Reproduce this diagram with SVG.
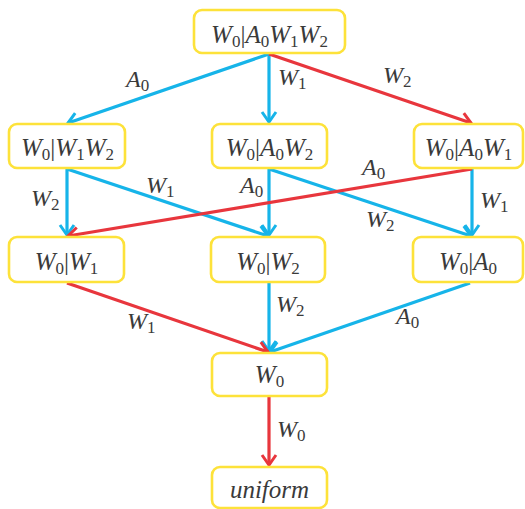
<svg xmlns="http://www.w3.org/2000/svg" width="525" height="509" viewBox="0 0 525 509">
<defs>
<style>
.box{fill:#fff;stroke:#FDE23A;stroke-width:2.6}
text{font-family:'Liberation Serif','Times New Roman',serif;font-style:italic;fill:#3a3a3a}
.t{font-size:25px;text-anchor:middle}
.l{font-size:24px}
.s{font-size:17px;font-style:normal}
.bar{font-style:normal}
.c{stroke:#16B4E9;stroke-width:3.2;fill:none}
.r{stroke:#E8363D;stroke-width:3.2;fill:none}
</style>
<marker id="ac" viewBox="-13 -9 15 18" markerWidth="15" markerHeight="18" refX="0" refY="0" orient="auto" markerUnits="userSpaceOnUse"><path d="M-10,-7 L0,0 L-10,7" fill="none" stroke="#16B4E9" stroke-width="3"/></marker>
<marker id="ar" viewBox="-13 -9 15 18" markerWidth="15" markerHeight="18" refX="0" refY="0" orient="auto" markerUnits="userSpaceOnUse"><path d="M-10,-7 L0,0 L-10,7" fill="none" stroke="#E8363D" stroke-width="3"/></marker>
</defs>
<rect width="525" height="509" fill="#fff"/>
<g id="connectors">
<line class="c" x1="269" y1="54" x2="68" y2="123" marker-end="url(#ac)"/>
<line class="c" x1="269" y1="54" x2="269" y2="122" marker-end="url(#ac)"/>
<line class="c" x1="67" y1="169" x2="67" y2="235" marker-end="url(#ac)"/>
<line class="c" x1="67" y1="169" x2="268" y2="236" marker-end="url(#ac)"/>
<line class="c" x1="269" y1="169" x2="269" y2="235" marker-end="url(#ac)"/>
<line class="c" x1="269" y1="169" x2="471" y2="236" marker-end="url(#ac)"/>
<line class="c" x1="472" y1="169" x2="472" y2="235" marker-end="url(#ac)"/>
<line class="c" x1="269" y1="283" x2="269" y2="351" marker-end="url(#ac)"/>
<line class="c" x1="470" y1="283" x2="270" y2="352" marker-end="url(#ac)"/>
<line class="r" x1="269" y1="54" x2="471" y2="123" marker-end="url(#ar)"/>
<line class="r" x1="472" y1="169" x2="68" y2="236" marker-end="url(#ar)"/>
<line class="r" x1="67" y1="283" x2="268" y2="352" marker-end="url(#ar)"/>
<line class="r" x1="269" y1="397" x2="269" y2="465" marker-end="url(#ar)"/>
<text class="l" x="126" y="87">A<tspan class="s" dy="4">0</tspan></text>
<text class="l" x="278" y="85">W<tspan class="s" dy="4">1</tspan></text>
<text class="l" x="383" y="83">W<tspan class="s" dy="4">2</tspan></text>
<text class="l" x="31" y="206">W<tspan class="s" dy="4">2</tspan></text>
<text class="l" x="146" y="193">W<tspan class="s" dy="4">1</tspan></text>
<text class="l" x="240" y="193">A<tspan class="s" dy="4">0</tspan></text>
<text class="l" x="362" y="175">A<tspan class="s" dy="4">0</tspan></text>
<text class="l" x="366" y="227">W<tspan class="s" dy="4">2</tspan></text>
<text class="l" x="480" y="208">W<tspan class="s" dy="4">1</tspan></text>
<text class="l" x="127" y="329">W<tspan class="s" dy="4">1</tspan></text>
<text class="l" x="276" y="312">W<tspan class="s" dy="4">2</tspan></text>
<text class="l" x="396" y="324">A<tspan class="s" dy="4">0</tspan></text>
<text class="l" x="277" y="437">W<tspan class="s" dy="4">0</tspan></text>
</g>
<g id="n1"><rect class="box" x="194" y="10" width="151" height="43" rx="8"/>
<text class="t" x="269.5" y="43">W<tspan class="s" dy="4">0</tspan><tspan class="bar" dy="-4">|</tspan>A<tspan class="s" dy="4">0</tspan><tspan dy="-4">W</tspan><tspan class="s" dy="4">1</tspan><tspan dy="-4">W</tspan><tspan class="s" dy="4">2</tspan></text></g>
<g id="n2"><rect class="box" x="9" y="124" width="116" height="44" rx="8"/>
<text class="t" x="67.5" y="156">W<tspan class="s" dy="4">0</tspan><tspan class="bar" dy="-4">|</tspan>W<tspan class="s" dy="4">1</tspan><tspan dy="-4">W</tspan><tspan class="s" dy="4">2</tspan></text></g>
<g id="n3"><rect class="box" x="212" y="124" width="115" height="44" rx="8"/>
<text class="t" x="269.5" y="156">W<tspan class="s" dy="4">0</tspan><tspan class="bar" dy="-4">|</tspan>A<tspan class="s" dy="4">0</tspan><tspan dy="-4">W</tspan><tspan class="s" dy="4">2</tspan></text></g>
<g id="n4"><rect class="box" x="414" y="124" width="109" height="44" rx="8"/>
<text class="t" x="468.5" y="156">W<tspan class="s" dy="4">0</tspan><tspan class="bar" dy="-4">|</tspan>A<tspan class="s" dy="4">0</tspan><tspan dy="-4">W</tspan><tspan class="s" dy="4">1</tspan></text></g>
<g id="n5"><rect class="box" x="9" y="237" width="115" height="45" rx="8"/>
<text class="t" x="66.5" y="270">W<tspan class="s" dy="4">0</tspan><tspan class="bar" dy="-4">|</tspan>W<tspan class="s" dy="4">1</tspan></text></g>
<g id="n6"><rect class="box" x="211" y="237" width="114" height="45" rx="8"/>
<text class="t" x="268" y="270">W<tspan class="s" dy="4">0</tspan><tspan class="bar" dy="-4">|</tspan>W<tspan class="s" dy="4">2</tspan></text></g>
<g id="n7"><rect class="box" x="413" y="237" width="110" height="45" rx="8"/>
<text class="t" x="468" y="270">W<tspan class="s" dy="4">0</tspan><tspan class="bar" dy="-4">|</tspan>A<tspan class="s" dy="4">0</tspan></text></g>
<g id="n8"><rect class="box" x="212" y="353" width="115" height="43" rx="8"/>
<text class="t" x="269.5" y="383">W<tspan class="s" dy="4">0</tspan></text></g>
<g id="n9"><rect class="box" x="212" y="467" width="115" height="41" rx="8"/>
<text class="t" x="269.5" y="498">uniform</text></g>
</svg>
